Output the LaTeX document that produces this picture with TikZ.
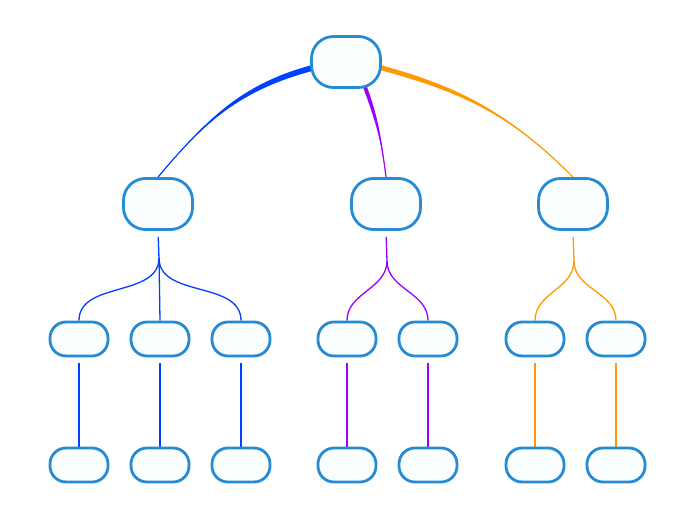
\documentclass[tikz,border=0pt]{standalone}
\usetikzlibrary{calc,backgrounds}
\definecolor{boxblue}{HTML}{268BD2}
\definecolor{boxfill}{HTML}{FBFEFE}
\definecolor{linkblue}{HTML}{0040FF}
\definecolor{linkpurple}{HTML}{9900FF}
\definecolor{linkorange}{HTML}{FF9900}
\tikzset{
  topic/.style={draw=boxblue, fill=boxfill, line width=2.8pt, inner sep=0pt},
  bigtopic/.style={topic, rounded corners=22pt, minimum width=69pt, minimum height=51pt},
  subtopic/.style={topic, rounded corners=16pt, minimum width=58pt, minimum height=34pt},
  twig/.style={line width=1.3pt},
}
\begin{document}
\begin{tikzpicture}[x=1pt,y=1pt]
	  \useasboundingbox (0,0) rectangle (696,520);
	  
	  \node[bigtopic] (root) at (346,458) {};
	  
	  \node[bigtopic] (a) at (158,316) {};
	  \node[bigtopic] (b) at (386,316) {};
	  \node[bigtopic] (c) at (573,316) {};
	  
	  \node[subtopic] (a1) at (79,181) {};
	  \node[subtopic] (a2) at (160,181) {};
	  \node[subtopic] (a3) at (241,181) {};
	  \node[subtopic] (b1) at (347,181) {};
	  \node[subtopic] (b2) at (428,181) {};
	  \node[subtopic] (c1) at (535,181) {};
	  \node[subtopic] (c2) at (616,181) {};
	  
	  \node[subtopic] (a1x) at (79,55) {};
	  \node[subtopic] (a2x) at (160,55) {};
	  \node[subtopic] (a3x) at (241,55) {};
	  \node[subtopic] (b1x) at (347,55) {};
	  \node[subtopic] (b2x) at (428,55) {};
	  \node[subtopic] (c1x) at (535,55) {};
	  \node[subtopic] (c2x) at (616,55) {};
	  
	  \coordinate (aa) at ($(a.south)+(1,-27)$);
	  \coordinate (bb) at ($(b.south)+(1,-30)$);
	  \coordinate (cc) at ($(c.south)+(1,-30)$);
	  
	  \begin{scope}[on background layer]
	  % main branches, thick at the root
	  \fill[linkblue] ($(root.west)+(2,-3)$) to[out=195,in=50] (a.north)
	    to[out=50,in=195] ($(root.west)+(2,-9)$) -- cycle;
	  \draw[linkblue, line width=1.2pt] ($(root.west)+(2,-6)$) to[out=195,in=50] (a.north);
	  \fill[linkpurple] ($(root.south)+(17,2)$) to[out=-70,in=97] (b.north)
	    to[out=97,in=-70] ($(root.south)+(21,2)$) -- cycle;
	  \draw[linkpurple, line width=1.2pt] ($(root.south)+(19,2)$) to[out=-70,in=97] (b.north);
	  \fill[linkorange] ($(root.east)+(-2,-3)$) to[out=-15,in=135] (c.north)
	    to[out=135,in=-15] ($(root.east)+(-2,-8)$) -- cycle;
	  \draw[linkorange, line width=1.2pt] ($(root.east)+(-2,-5.5)$) to[out=-15,in=135] (c.north);
	  
	  \draw[linkblue, twig, shorten <=6pt] (a.south) -- (aa);
	  \draw[linkblue, twig] (aa) to[out=-90,in=90] (a1.north);
	  \draw[linkblue, twig] (aa) -- (a2.north);
	  \draw[linkblue, twig] (aa) to[out=-90,in=90] (a3.north);
	  \draw[linkpurple, twig, shorten <=6pt] (b.south) -- (bb);
	  \draw[linkpurple, twig] (bb) to[out=-90,in=90] (b1.north);
	  \draw[linkpurple, twig] (bb) to[out=-90,in=90] (b2.north);
	  \draw[linkorange, twig, shorten <=6pt] (c.south) -- (cc);
	  \draw[linkorange, twig] (cc) to[out=-90,in=90] (c1.north);
	  \draw[linkorange, twig] (cc) to[out=-90,in=90] (c2.north);
	  
	  \draw[linkblue, twig, shorten <=6pt] (a1.south) -- (a1x.north);
	  \draw[linkblue, twig, shorten <=6pt] (a2.south) -- (a2x.north);
	  \draw[linkblue, twig, shorten <=6pt] (a3.south) -- (a3x.north);
	  \draw[linkpurple, twig, shorten <=6pt] (b1.south) -- (b1x.north);
	  \draw[linkpurple, twig, shorten <=6pt] (b2.south) -- (b2x.north);
	  \draw[linkorange, twig, shorten <=6pt] (c1.south) -- (c1x.north);
	  \draw[linkorange, twig, shorten <=6pt] (c2.south) -- (c2x.north);
	  \end{scope}
\end{tikzpicture}
\end{document}
